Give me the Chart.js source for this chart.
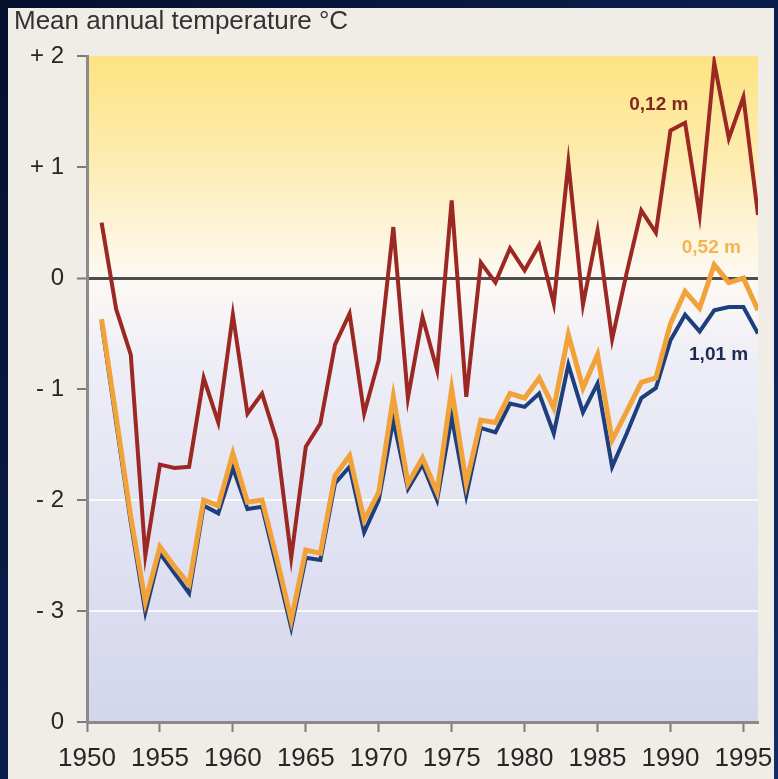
<!DOCTYPE html>
<html>
<head>
<meta charset="utf-8">
<script src="https://cdn.jsdelivr.net/npm/chart.js@4.4.1/dist/chart.umd.min.js"></script>
<style>
    html, body { margin: 0; padding: 0; overflow: hidden; background: #0a1a46; }
    #wrap { position: relative; width: 778px; height: 779px; }
</style>
</head>
<body>
<div id="wrap"><canvas id="tempChart"></canvas></div>
<script>
// Years on the x axis
const years = [1951, 1952, 1953, 1954, 1955, 1956, 1957, 1958, 1959, 1960,
    1961, 1962, 1963, 1964, 1965, 1966, 1967, 1968, 1969, 1970,
    1971, 1972, 1973, 1974, 1975, 1976, 1977, 1978, 1979, 1980,
    1981, 1982, 1983, 1984, 1985, 1986, 1987, 1988, 1989, 1990,
    1991, 1992, 1993, 1994, 1995, 1996];

// Mean annual temperature at 0,12 m depth
const depth012 = [0.50, -0.28, -0.69, -2.50, -1.68, -1.71, -1.70, -0.90, -1.30, -0.33,
    -1.22, -1.04, -1.46, -2.52, -1.52, -1.31, -0.60, -0.32, -1.22, -0.74,
    0.46, -1.08, -0.35, -0.83, 0.70, -1.07, 0.14, -0.04, 0.27, 0.07,
    0.30, -0.23, 1.04, -0.24, 0.43, -0.55, 0.05, 0.61, 0.41, 1.33,
    1.40, 0.57, 1.94, 1.26, 1.63, 0.57];

// Mean annual temperature at 0,52 m depth
const depth052 = [-0.37, -1.25, -2.15, -2.92, -2.42, -2.60, -2.76, -2.00, -2.05, -1.58,
    -2.02, -2.00, -2.52, -3.08, -2.45, -2.48, -1.78, -1.60, -2.18, -1.93,
    -1.07, -1.85, -1.62, -1.93, -1.00, -1.85, -1.28, -1.30, -1.04, -1.08,
    -0.90, -1.17, -0.51, -0.99, -0.69, -1.46, -1.20, -0.94, -0.90, -0.41,
    -0.12, -0.27, 0.12, -0.04, 0.00, -0.29];

// Mean annual temperature at 1,01 m depth
const depth101 = [-0.40, -1.30, -2.20, -3.01, -2.48, -2.66, -2.84, -2.05, -2.12, -1.71,
    -2.08, -2.06, -2.60, -3.15, -2.52, -2.54, -1.85, -1.70, -2.29, -2.00,
    -1.28, -1.90, -1.68, -2.00, -1.25, -1.96, -1.35, -1.39, -1.13, -1.16,
    -1.04, -1.40, -0.78, -1.21, -0.95, -1.70, -1.40, -1.08, -0.99, -0.56,
    -0.33, -0.48, -0.29, -0.26, -0.26, -0.50];

// Series labels written next to the lines
const seriesLabels = ['0,12 m', '0,52 m', '1,01 m'];

const FONT = "'Liberation Sans', Arial, sans-serif";

function toPoints(values) {
    return values.map((v, i) => ({ x: years[i], y: v }));
}

// Y tick text: "+ 2", "0", "- 1" ... and the broken-axis "0" at the bottom
function yTickLabel(value) {
    if (value === -4) return '0';
    if (value > 0) return '+ ' + value;
    if (value < 0) return '- ' + Math.abs(value);
    return '0';
}

// Draws the navy frame, the light panel and the plot gradient
const backgroundPlugin = {
    id: 'backgroundPlugin',
    beforeDraw(chart) {
        const ctx = chart.ctx;
        const area = chart.chartArea;
        ctx.save();
        const frame = ctx.createLinearGradient(0, 0, chart.width, chart.height);
        frame.addColorStop(0, '#050f2e');
        frame.addColorStop(1, '#0f2d6c');
        ctx.fillStyle = frame;
        ctx.fillRect(0, 0, chart.width, chart.height);

        ctx.fillStyle = '#efede6';
        ctx.fillRect(8, 8, 766, 771);

        const yScale = chart.scales.y;
        const grad = ctx.createLinearGradient(0, area.top, 0, area.bottom);
        const zeroPos = (yScale.getPixelForValue(0) - area.top) / (area.bottom - area.top);
        grad.addColorStop(0, '#fde382');
        grad.addColorStop(zeroPos * 0.5, '#fdedb4');
        grad.addColorStop(zeroPos, '#fdf9f3');
        grad.addColorStop(zeroPos + 0.12, '#eeeef7');
        grad.addColorStop(1, '#d3d5ec');
        ctx.fillStyle = grad;
        ctx.fillRect(area.left, area.top, area.right - area.left, area.bottom - area.top);
        ctx.restore();
    }
};

// Writes the depth labels beside the lines
const seriesLabelPlugin = {
    id: 'seriesLabelPlugin',
    afterDatasetsDraw(chart) {
        const ctx = chart.ctx;
        const x = chart.scales.x;
        const y = chart.scales.y;
        const spots = [
            { text: seriesLabels[0], xv: 1989.2, yv: 1.56, color: '#7d2a22' },
            { text: seriesLabels[1], xv: 1992.8, yv: 0.27, color: '#f2b550' },
            { text: seriesLabels[2], xv: 1993.3, yv: -0.69, color: '#1d2b52' }
        ];
        ctx.save();
        ctx.font = 'bold 19px ' + FONT;
        ctx.textAlign = 'center';
        ctx.textBaseline = 'middle';
        spots.forEach(s => {
            ctx.fillStyle = s.color;
            ctx.fillText(s.text, x.getPixelForValue(s.xv), y.getPixelForValue(s.yv));
        });
        ctx.restore();
    }
};

const tempChart = new Chart(document.getElementById('tempChart'), {
    type: 'line',
    data: {
        datasets: [
            {
                label: seriesLabels[0],
                data: toPoints(depth012),
                borderColor: '#9c2823',
                borderWidth: 4,
                pointRadius: 0,
                tension: 0,
                order: 1
            },
            {
                label: seriesLabels[1],
                data: toPoints(depth052),
                borderColor: '#f1a238',
                borderWidth: 5,
                pointRadius: 0,
                tension: 0,
                order: 2
            },
            {
                label: seriesLabels[2],
                data: toPoints(depth101),
                borderColor: '#1d3f7e',
                borderWidth: 4,
                pointRadius: 0,
                tension: 0,
                order: 3
            }
        ]
    },
    options: {
        responsive: true,
        maintainAspectRatio: false,
        animation: false,
        layout: { padding: { top: 0, left: 14, right: 20, bottom: 0 } },
        plugins: {
            legend: { display: false },
            tooltip: { enabled: false },
            title: {
                display: true,
                text: 'Mean annual temperature °C',
                align: 'start',
                color: '#333333',
                font: { family: FONT, size: 26, weight: 'normal' },
                padding: { top: 6, bottom: 19 }
            }
        },
        scales: {
            x: {
                type: 'linear',
                min: 1950,
                max: 1996,
                ticks: {
                    stepSize: 5,
                    includeBounds: false,
                    color: '#262626',
                    font: { family: FONT, size: 26 },
                    padding: 11,
                    maxRotation: 0,
                    callback: v => String(v)
                },
                grid: {
                    drawOnChartArea: false,
                    drawTicks: true,
                    tickLength: 10,
                    tickColor: '#7a7a7a',
                    tickWidth: 2
                },
                border: { color: '#8a8a8a', width: 3 },
                afterFit: scale => {
                    scale.height = 57;
                    scale.paddingLeft = 0;
                    scale.paddingRight = 0;
                }
            },
            y: {
                min: -4,
                max: 2,
                ticks: {
                    stepSize: 1,
                    color: '#262626',
                    font: { family: FONT, size: 24 },
                    padding: 13,
                    callback: v => yTickLabel(v)
                },
                grid: {
                    color: ctx => {
                        const v = ctx.tick ? ctx.tick.value : null;
                        if (v === 0) return '#4d4d4d';
                        if (v === -2 || v === -3) return 'rgba(255,255,255,0.8)';
                        return 'rgba(0,0,0,0)';
                    },
                    lineWidth: ctx => (ctx.tick && ctx.tick.value === 0 ? 3 : 2),
                    drawTicks: true,
                    tickLength: 10,
                    tickColor: '#7a7a7a',
                    tickWidth: 2
                },
                border: { color: '#8a8a8a', width: 3 },
                afterFit: scale => { scale.width = 73; }
            }
        }
    },
    plugins: [backgroundPlugin, seriesLabelPlugin]
});
</script>
</body>
</html>
